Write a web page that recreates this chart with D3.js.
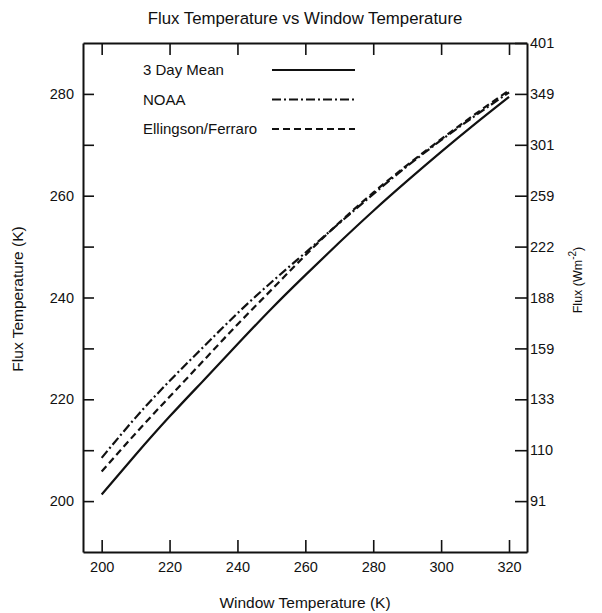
<!DOCTYPE html>
<html>
<head>
<meta charset="utf-8">
<script src="https://d3js.org/d3.v7.min.js"></script>
<style>
  body { margin: 0; background: #fff; }
  text { font-family: "Liberation Sans", Arial, sans-serif; fill: #111; }
</style>
</head>
<body>
<script>
// window temperature (K) on the x axis
var windowTemp = [200, 210, 220, 230, 240, 250, 260, 270, 280, 290, 300, 310, 320];

// flux temperature (K) for each method
var meanFlux  = [201.3, 209.1, 216.6, 223.7, 230.8, 237.8, 244.4, 250.8, 257.0, 262.9, 268.6, 274.1, 279.4];
var noaaFlux  = [208.5, 216.4, 223.6, 230.3, 236.9, 243.0, 248.8, 254.6, 260.3, 265.8, 270.9, 275.7, 280.3];
var ellFlux   = [205.8, 213.3, 220.5, 227.6, 234.7, 241.5, 248.3, 254.7, 260.6, 266.0, 271.1, 276.0, 280.7];

var seriesNames = ["3 Day Mean", "NOAA", "Ellingson/Ferraro"];

// tick values
var xTicks = [200, 220, 240, 260, 280, 300, 320];
var yTicks = [200, 210, 220, 230, 240, 250, 260, 270, 280];
var yLabelled = [200, 220, 240, 260, 280];
var rightTicks = [200, 210, 220, 230, 240, 250, 260, 270, 280, 290];
var rightLabels = ["91", "110", "133", "159", "188", "222", "259", "301", "349", "401"];

var W = 602, H = 613;
var pLeft = 83, pRight = 527, pTop = 43, pBottom = 552;

var svg = d3.select("body").append("svg")
    .attr("width", W)
    .attr("height", H);

var x = d3.scaleLinear().domain([194.5, 325.3]).range([pLeft, pRight]);
var y = d3.scaleLinear().domain([190, 290]).range([pBottom, pTop]);

function styleAxis(g) {
    g.select(".domain").attr("stroke", "#111").attr("stroke-width", 2);
    g.selectAll(".tick line").attr("stroke", "#111").attr("stroke-width", 1.6);
    g.selectAll(".tick text").style("font-size", "14.5px").attr("fill", "#111")
        .style("font-family", "'Liberation Sans', Arial, sans-serif");
}

// bottom axis
svg.append("g")
    .attr("transform", "translate(0," + pBottom + ")")
    .call(d3.axisBottom(x).tickValues(xTicks).tickSizeInner(-12).tickSizeOuter(0).tickPadding(10).tickFormat(d3.format("d")))
    .call(styleAxis);

// top axis
svg.append("g")
    .attr("transform", "translate(0," + pTop + ")")
    .call(d3.axisTop(x).tickValues(xTicks).tickSizeInner(-12).tickSizeOuter(0).tickFormat(""))
    .call(styleAxis);

// left axis
svg.append("g")
    .attr("transform", "translate(" + pLeft + ",0)")
    .call(d3.axisLeft(y).tickValues(yTicks).tickSizeInner(-11).tickSizeOuter(0).tickPadding(9)
        .tickFormat(function(d){ return yLabelled.indexOf(d) >= 0 ? d : ""; }))
    .call(styleAxis);

// right axis (flux)
svg.append("g")
    .attr("transform", "translate(" + pRight + ",0)")
    .call(d3.axisRight(y).tickValues(rightTicks).tickSizeInner(-12).tickSizeOuter(0).tickPadding(3)
        .tickFormat(function(d, i){ return rightLabels[i]; }))
    .call(styleAxis);

// curves
var series = [
    { name: seriesNames[0], values: meanFlux, dash: null },
    { name: seriesNames[1], values: noaaFlux, dash: "9,3,2,3" },
    { name: seriesNames[2], values: ellFlux, dash: "7,4" }
];

var line = d3.line()
    .x(function(d){ return x(d[0]); })
    .y(function(d){ return y(d[1]); })
    .curve(d3.curveNatural);

svg.selectAll("path.curve").data(series).enter().append("path")
    .attr("class", "curve")
    .attr("d", function(s){ return line(d3.zip(windowTemp, s.values)); })
    .attr("fill", "none")
    .attr("stroke", "#111")
    .attr("stroke-width", 2.2)
    .attr("stroke-dasharray", function(s){ return s.dash; });

// legend
var legend = svg.selectAll("g.legend").data(series).enter().append("g")
    .attr("class", "legend")
    .attr("transform", function(d, i){ return "translate(0," + (70 + i * 29.5) + ")"; });

legend.append("text")
    .attr("x", 143)
    .attr("y", 5)
    .style("font-size", "15px")
    .text(function(d){ return d.name; });

legend.append("line")
    .attr("x1", 272).attr("x2", 355)
    .attr("y1", 0).attr("y2", 0)
    .attr("stroke", "#111")
    .attr("stroke-width", 2)
    .attr("stroke-dasharray", function(d){ return d.dash; });

// title
svg.append("text")
    .attr("x", 305)
    .attr("y", 24)
    .attr("text-anchor", "middle")
    .style("font-size", "16.8px")
    .text("Flux Temperature vs Window Temperature");

// axis titles
svg.append("text")
    .attr("x", 305)
    .attr("y", 608)
    .attr("text-anchor", "middle")
    .style("font-size", "15.5px")
    .text("Window Temperature (K)");

svg.append("text")
    .attr("transform", "translate(23,299) rotate(-90)")
    .attr("text-anchor", "middle")
    .style("font-size", "15.5px")
    .text("Flux Temperature (K)");

var rt = svg.append("text")
    .attr("transform", "translate(582,280) rotate(-90)")
    .attr("text-anchor", "middle")
    .style("font-size", "12.5px");
rt.append("tspan").text("Flux (Wm");
rt.append("tspan").attr("dy", -6).style("font-size", "10px").text("-2");
rt.append("tspan").attr("dy", 6).text(")");
</script>
</body>
</html>
